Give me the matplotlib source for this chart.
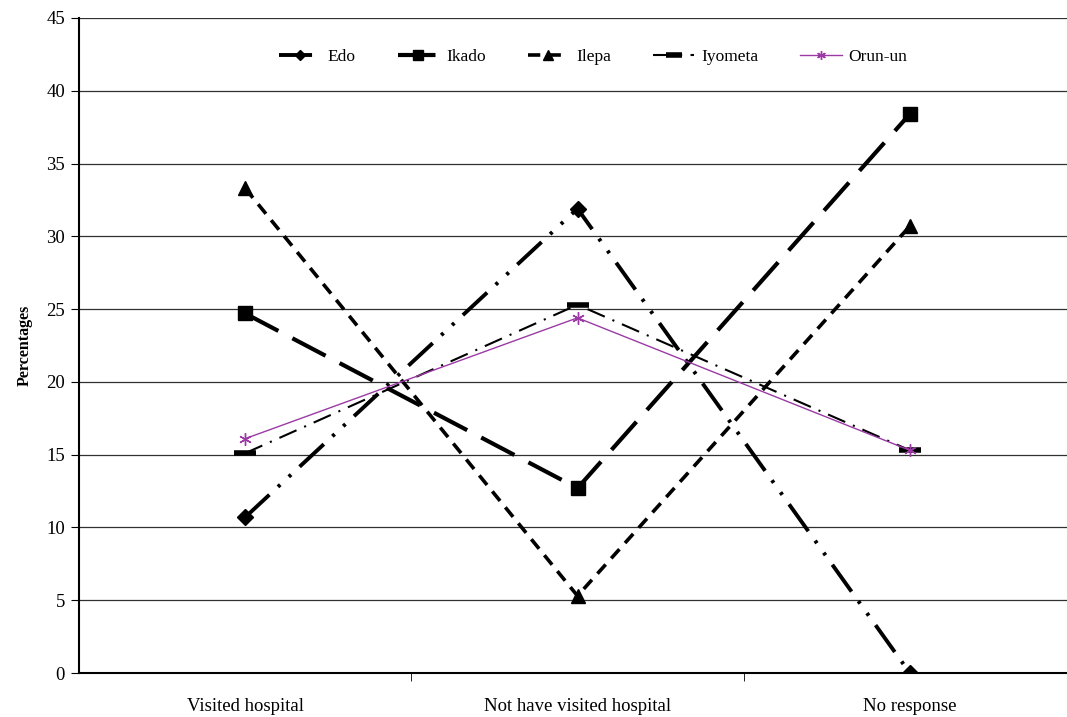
import matplotlib.pyplot as plt
import numpy as np

# categories and percentages per community
categories = ['Visited hospital', 'Not have visited hospital', 'No response']
edo = [10.7, 31.9, 0.0]
ikado = [24.7, 12.7, 38.4]
ilepa = [33.3, 5.3, 30.7]
iyometa = [15.1, 25.3, 15.3]
orun_un = [16.1, 24.4, 15.3]

plt.rcParams['font.family'] = ['Liberation Serif', 'DejaVu Serif']

fig = plt.figure(figsize=(10.67, 7.17), dpi=100)
ax = fig.add_axes([79 / 1067, 1 - 673 / 717, 997 / 1067, 655 / 717])

x = np.arange(len(categories))

ax.plot(x, edo, color='black', lw=2.8, dashes=(8.5, 3, 0.8, 3, 0.8, 3),
        marker='D', ms=8, label='Edo')
ax.plot(x, ikado, color='black', lw=3.0, dashes=(9, 3.8),
        marker='s', ms=10, label='Ikado')
ax.plot(x, ilepa, color='black', lw=2.6, dashes=(3.4, 2.3),
        marker='^', ms=10, label='Ilepa')
ax.plot(x, iyometa, color='black', lw=1.5, dashes=(9, 4, 1, 4),
        marker='_', ms=16, mew=4, label='Iyometa')
ax.plot(x, orun_un, color='#9b3aa5', lw=1.0, marker=(6, 2, 0), ms=9,
        mew=1.0, label='Orun-un')

ax.set_xlim(-0.5, 2.5)
ax.set_ylim(0, 45)
ax.set_yticks(np.arange(0, 46, 5))
ax.yaxis.grid(True, color='#303030', lw=0.9)
ax.set_axisbelow(True)

ax.set_xticks(x)
ax.set_xticklabels(categories, fontsize=13.5)
ax.set_xticks([0.5, 1.5], minor=True)
ax.tick_params(axis='x', which='major', length=0, pad=18)
ax.tick_params(axis='x', which='minor', length=6, direction='out')
ax.tick_params(axis='y', labelsize=13.5, length=6, direction='out', pad=4)

ax.spines['right'].set_visible(False)
ax.spines['top'].set_visible(False)
ax.spines['left'].set_linewidth(1.5)
ax.spines['bottom'].set_linewidth(1.5)

ax.set_ylabel('Percentages', fontsize=11.5, fontweight='bold', labelpad=10)

ax.legend(loc='center', bbox_to_anchor=(0.516, 0.94), ncol=5,
          frameon=False, fontsize=12.5, handlelength=2.4, columnspacing=2.4,
          handletextpad=0.4, markerscale=0.7)

fig.savefig('out.png', dpi=100)
